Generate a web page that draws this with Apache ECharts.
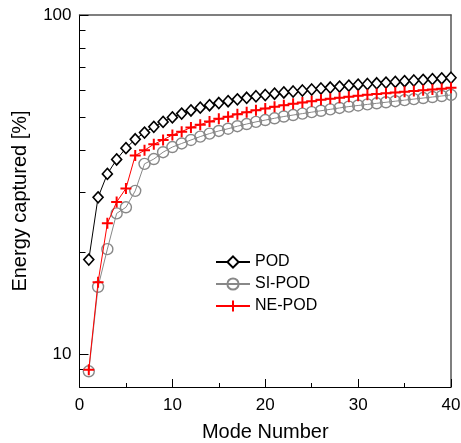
<!DOCTYPE html>
<html>
<head>
<meta charset="utf-8">
<script src="https://cdn.jsdelivr.net/npm/echarts@6/dist/echarts.min.js"></script>
<style>html,body{margin:0;padding:0;background:#fff;}#c{width:461px;height:443px;}</style>
</head>
<body>
<div id="c"></div>
<script>
const modes = [1,2,3,4,5,6,7,8,9,10,11,12,13,14,15,16,17,18,19,20,21,22,23,24,25,26,27,28,29,30,31,32,33,34,35,36,37,38,39,40];
const pod = [19.0,29.0,34.0,37.5,40.5,43.0,45.0,46.8,48.4,49.9,51.2,52.3,53.3,54.2,55.0,55.7,56.4,57.0,57.6,58.1,58.6,59.1,59.5,59.9,60.3,60.7,61.1,61.5,61.9,62.3,62.6,62.9,63.2,63.5,63.8,64.1,64.4,64.7,65.0,65.3];
const siPod = [8.9,15.8,20.4,26.0,27.1,30.3,36.4,37.6,39.4,40.8,41.8,42.8,43.8,44.7,45.5,46.2,47.0,47.7,48.4,49.0,49.6,50.2,50.7,51.2,51.7,52.2,52.7,53.2,53.7,54.1,54.5,54.9,55.3,55.7,56.1,56.5,56.9,57.3,57.7,58.1];
const nePod = [9.0,16.3,24.3,28.1,30.8,38.5,39.9,41.6,42.8,44.3,45.3,46.6,47.5,48.5,49.4,50.1,51.0,51.7,52.4,53.0,53.6,54.2,54.7,55.2,55.7,56.2,56.6,57.0,57.4,57.8,58.2,58.5,58.8,59.1,59.4,59.7,60.0,60.3,60.6,61.0];
const seriesNames = ['POD','SI-POD','NE-POD'];
const yMajorTicks = [10,100];
const yMinorTicks = [9,20,30,40,50,60,70,80,90];
const xTitle = 'Mode Number';
const yTitle = 'Energy captured [%]';

const font = '"Liberation Sans", Arial, Helvetica, sans-serif';
const pair = arr => modes.map((m,i)=>[m,arr[i]]);
const chart = echarts.init(document.getElementById('c'));
chart.setOption({
  animation:false,
  backgroundColor:'#fff',
  grid:{left:79.5,right:10,top:15,bottom:56,containLabel:false,outerBoundsMode:'none'},
  legend:{
    orient:'vertical', left:210, top:249,
    itemWidth:34, itemHeight:14, itemGap:6,
    textStyle:{fontFamily:font,fontSize:16,color:'#000',lineHeight:14},
    data:seriesNames
  },
  xAxis:[{
    type:'value', min:0, max:40, interval:10,
    name:xTitle, nameLocation:'middle', nameGap:35,
    nameTextStyle:{fontFamily:font,fontSize:20,color:'#000'},
    axisLine:{show:true,onZero:false,lineStyle:{color:'#000',width:1}},
    axisTick:{show:true,inside:true,length:8,lineStyle:{color:'#000'}},
    minorTick:{show:true,splitNumber:2,length:4,lineStyle:{color:'#000'}},
    axisLabel:{fontFamily:font,fontSize:17,color:'#000',margin:10},
    splitLine:{show:false}
  },{
    type:'value', min:0, max:40, position:'top',
    axisLine:{show:true,onZero:false,lineStyle:{color:'#555',width:1.5}},
    axisTick:{show:false}, axisLabel:{show:false}, splitLine:{show:false}
  }],
  yAxis:[{
    type:'log', logBase:10, min:8, max:100,
    name:yTitle, nameLocation:'middle', nameGap:49,
    nameTextStyle:{fontFamily:font,fontSize:20,color:'#000'},
    axisLine:{show:true,onZero:false,lineStyle:{color:'#000',width:1}},
    axisTick:{show:true,inside:true,length:9,customValues:yMajorTicks,lineStyle:{color:'#000'}},
    axisLabel:{fontFamily:font,fontSize:17,color:'#000',margin:8,customValues:yMajorTicks},
    splitLine:{show:false}
  },{
    type:'log', logBase:10, min:8, max:100, position:'left',
    axisLine:{show:false},
    axisTick:{show:true,inside:true,length:6,customValues:yMinorTicks,lineStyle:{color:'#000'}},
    axisLabel:{show:false}, splitLine:{show:false}
  },{
    type:'log', logBase:10, min:8, max:100, position:'right',
    axisLine:{show:true,onZero:false,lineStyle:{color:'#555',width:1.5}},
    axisTick:{show:false}, axisLabel:{show:false}, splitLine:{show:false}
  }],
  series:[{
    name:seriesNames[0], type:'line', data:pair(pod),
    symbol:'diamond', symbolSize:[10,11],
    lineStyle:{color:'#000',width:1},
    itemStyle:{color:'#fff',borderColor:'#000',borderWidth:1.6},
    z:3
  },{
    name:seriesNames[1], type:'line', data:pair(siPod),
    symbol:'circle', symbolSize:11,
    lineStyle:{color:'#888',width:1},
    itemStyle:{color:'rgba(255,255,255,0)',borderColor:'#888',borderWidth:1.4},
    z:2
  },{
    name:seriesNames[2], type:'line', data:pair(nePod),
    symbol:'path://M0,-1L0,1M-1,0L1,0', symbolSize:11,
    lineStyle:{color:'#ff0000',width:1},
    itemStyle:{color:'#ff0000',borderColor:'#ff0000',borderWidth:2},
    z:4
  }]
});
</script>
</body>
</html>
